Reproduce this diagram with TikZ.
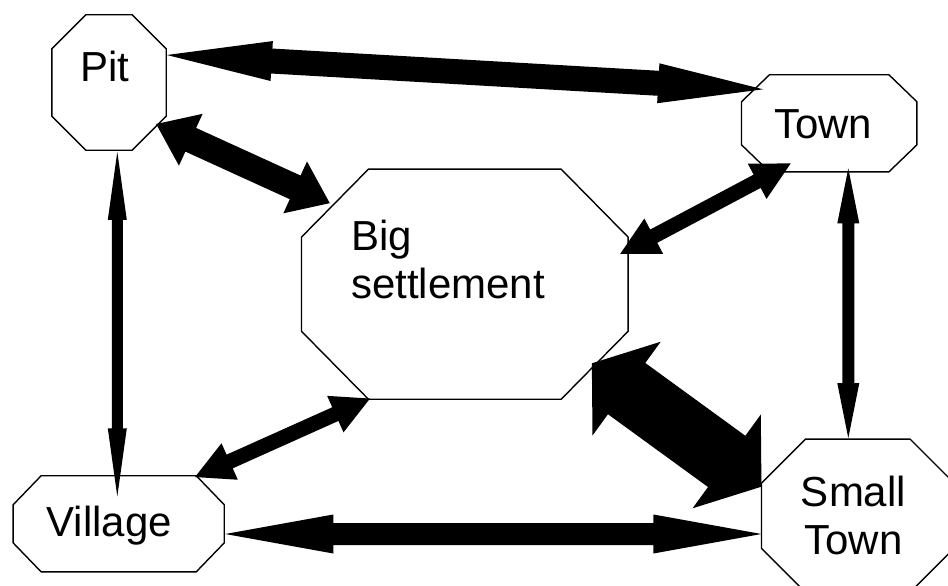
\documentclass[tikz,border=0pt]{standalone}
\usepackage{fontspec}
\setmainfont{Liberation Sans}
\usetikzlibrary{calc}
\tikzset{
  box/.style={rectangle, inner sep=0pt, draw=none},
  octline/.style={draw=black, line width=1.4pt, line join=miter},
  lbl/.style={inner sep=0pt, font=\fontsize{42}{48}\selectfont, text=black},
  arrowfill/.style={fill=black},
}
% octagon drawn along the border of a named box node: name, chamfer x, chamfer y
\newcommand\octo[3]{%
  \draw[octline] ($(#1.north west)+(#2pt,0pt)$) -- ($(#1.north east)+(-#2pt,0pt)$)
    -- ($(#1.north east)+(0pt,-#3pt)$) -- ($(#1.south east)+(0pt,#3pt)$)
    -- ($(#1.south east)+(-#2pt,0pt)$) -- ($(#1.south west)+(#2pt,0pt)$)
    -- ($(#1.south west)+(0pt,#3pt)$) -- ($(#1.north west)+(0pt,-#3pt)$) -- cycle;}
% double-headed block arrow: start, end, shaft half width, head half width, head length
\newcommand\fatarrow[5]{%
  \path ($(#1)!#5!(#2)$) coordinate (fa1) ($(#2)!#5!(#1)$) coordinate (fa2);
  \fill[arrowfill] (#1) -- ($(fa1)!#4!90:(#2)$) -- ($(fa1)!#3!90:(#2)$)
    -- ($(fa2)!#3!-90:(#1)$) -- ($(fa2)!#4!-90:(#1)$) -- (#2)
    -- ($(fa2)!#4!90:(#1)$) -- ($(fa2)!#3!90:(#1)$)
    -- ($(fa1)!#3!-90:(#2)$) -- ($(fa1)!#4!-90:(#2)$) -- cycle;}
\begin{document}
\begin{tikzpicture}[x=1pt,y=-1pt]
\clip (0,0) rectangle (948,586);
% places
\node[box, minimum width=114pt, minimum height=135pt] (pit) at (109,82.5) {};
\node[box, minimum width=175pt, minimum height=96.7pt] (town) at (829.2,123.3) {};
\node[box, minimum width=326.3pt, minimum height=229.7pt] (big) at (464.8,284.2) {};
\node[box, minimum width=210.7pt, minimum height=95.7pt] (village) at (118.7,523.8) {};
\node[box, minimum width=192.3pt, minimum height=152.7pt] (small) at (857.8,515.7) {};
\octo{pit}{34}{34}
\octo{town}{28}{27}
\octo{big}{67}{68}
\octo{village}{28}{29}
\octo{small}{44}{44}
% labels
\node[lbl, anchor=base west] (pittxt) at ($(pit.center)+(-29,-0.8)$) {Pit};
\node[lbl, anchor=base west] (towntxt) at ($(town.center)+(-55.2,15)$) {Town};
\node[lbl, anchor=base west] (villtxt) at ($(village.center)+(-72.4,12.9)$) {Village};
\node[lbl, align=left] (bigtxt) at ($(big.center)+(-16.9,-25.2)$) {Big\\settlement};
\node[lbl, align=center] (smalltxt) at ($(small.center)+(-4.3,-0.2)$) {Small\\Town};
% connector ends
\coordinate (a1s) at ($(pit.east)+(0.7,-27.5)$);
\coordinate (a1e) at ($(town.west)+(21.6,-34)$);
\coordinate (a2s) at ($(pit.east)+(-10,41.5)$);
\coordinate (a2e) at ($(big.north west)+(28.3,34)$);
\coordinate (a3s) at ($(pit.south)+(8.3,1.7)$);
\coordinate (a3e) at ($(village.north)+(-1.4,20.7)$);
\coordinate (a4s) at ($(town.south)+(19.1,-3.4)$);
\coordinate (a4e) at ($(small.north)+(-9.5,-1)$);
\coordinate (a5s) at ($(town.south)+(-38.5,-8.4)$);
\coordinate (a5e) at ($(big.east)+(-8,-30.2)$);
\coordinate (a6s) at ($(big.south)+(-94.8,-0.7)$);
\coordinate (a6e) at ($(village.north)+(76.3,1.3)$);
\coordinate (a7s) at ($(village.east)+(1,10.2)$);
\coordinate (a7e) at ($(small.west)+(0,18.3)$);
\coordinate (a8s) at ($(big.east)+(-36.3,79.1)$);
\coordinate (a8e) at ($(small.west)+(0,-29)$);
% connectors
\fatarrow{a1s}{a1e}{12.5pt}{20pt}{105pt}
\fatarrow{a2s}{a2e}{13pt}{28.5pt}{38pt}
\fatarrow{a3s}{a3e}{5.5pt}{9.5pt}{68pt}
\fatarrow{a4s}{a4e}{6pt}{11pt}{55pt}
\fatarrow{a5s}{a5e}{7.5pt}{20pt}{38pt}
\fatarrow{a6s}{a6e}{7.5pt}{20pt}{38pt}
\fatarrow{a7s}{a7e}{11pt}{19.5pt}{108pt}
\fatarrow{a8s}{a8e}{31.7pt}{58pt}{43pt}
\end{tikzpicture}
\end{document}
